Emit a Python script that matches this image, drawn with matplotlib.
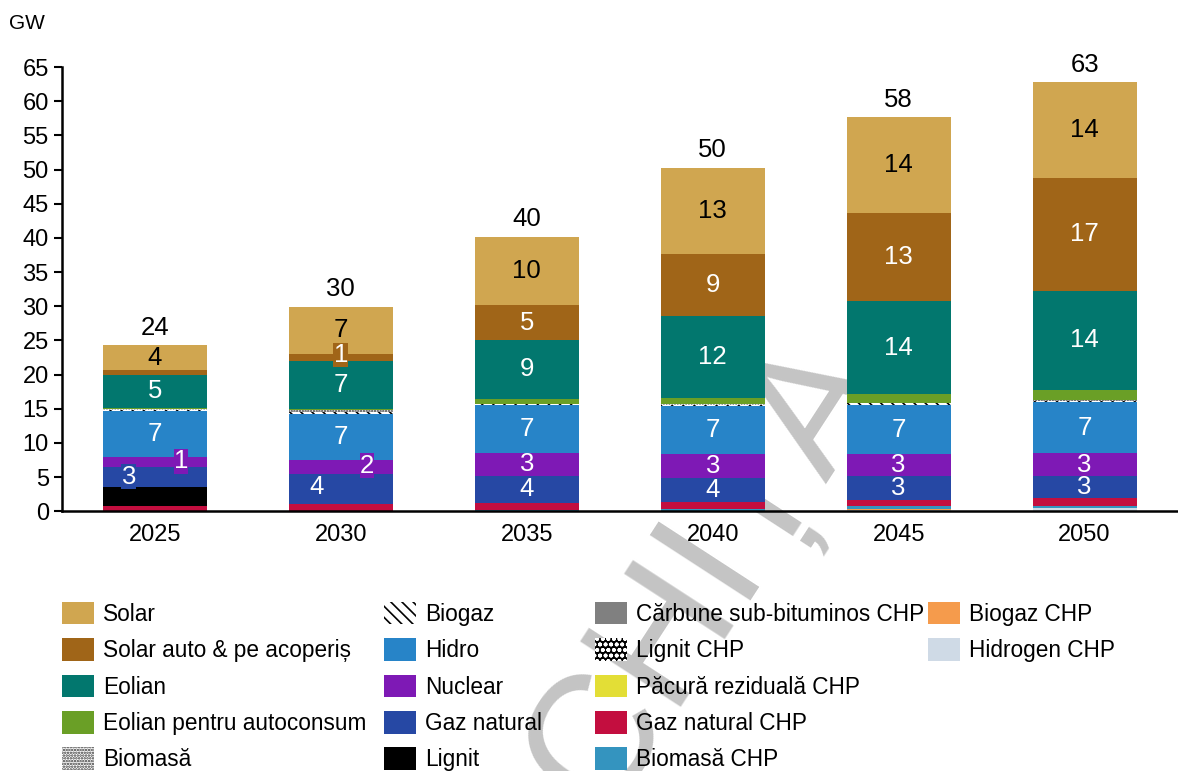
import matplotlib
matplotlib.use("Agg")
import matplotlib.pyplot as plt
import matplotlib.patches as mpatches
import numpy as np

plt.rcParams['font.family'] = ['Liberation Sans', 'DejaVu Sans']
plt.rcParams['hatch.linewidth'] = 1.2

years = ["2025", "2030", "2035", "2040", "2045", "2050"]

# series, bottom -> top of each bar (GW)
hidrogen_chp = [0, 0, 0, 0, 0.15, 0.4]
biogaz_chp = [0, 0, 0, 0, 0.15, 0.1]
biomasa_chp = [0, 0, 0.1, 0.3, 0.4, 0.3]
gaz_chp = [0.7, 1.1, 1.1, 1.0, 1.0, 1.1]
pacura_chp = [0, 0, 0, 0, 0, 0]
lignit_chp = [0, 0, 0, 0, 0, 0]
carbune_chp = [0, 0, 0, 0, 0, 0]
lignit = [2.9, 0, 0, 0, 0, 0]
gaz = [2.9, 4.4, 4.0, 3.6, 3.4, 3.2]
nuclear = [1.4, 1.95, 3.3, 3.4, 3.2, 3.4]
hidro = [6.7, 6.8, 7.0, 7.1, 7.3, 7.45]
biogaz = [0.2, 0.3, 0.2, 0.2, 0.2, 0.2]
biomasa = [0.1, 0.2, 0.05, 0.1, 0.05, 0.05]
eolian_auto = [0.2, 0.2, 0.7, 0.9, 1.3, 1.6]
eolian = [4.9, 7.1, 8.6, 12.0, 13.6, 14.4]
solar_auto = [0.6, 1.0, 5.1, 9.1, 12.9, 16.6]
solar = [3.7, 6.9, 10.0, 12.6, 14.0, 14.0]

# (name, values, color, hatch, hatch color, label color or None)
series = [
    ("Hidrogen CHP", hidrogen_chp, "#CFDAE6", None, None, None),
    ("Biogaz CHP", biogaz_chp, "#F59B4C", None, None, None),
    ("Biomasă CHP", biomasa_chp, "#3494BF", None, None, None),
    ("Gaz natural CHP", gaz_chp, "#C30E3F", None, None, None),
    ("Păcură reziduală CHP", pacura_chp, "#E3DE36", None, None, None),
    ("Lignit CHP", lignit_chp, "black", "ooo", "white", None),
    ("Cărbune sub-bituminos CHP", carbune_chp, "#808080", None, None, None),
    ("Lignit", lignit, "black", None, None, None),
    ("Gaz natural", gaz, "#2648A4", None, None, "white"),
    ("Nuclear", nuclear, "#7E19B5", None, None, "white"),
    ("Hidro", hidro, "#2784C8", None, None, "white"),
    ("Biogaz", biogaz, "white", "\\\\\\", "black", None),
    ("Biomasă", biomasa, "white", "......", "#333333", None),
    ("Eolian pentru autoconsum", eolian_auto, "#6A9F26", None, None, None),
    ("Eolian", eolian, "#02776E", None, None, "white"),
    ("Solar auto & pe acoperiș", solar_auto, "#A06518", None, None, "white"),
    ("Solar", solar, "#D0A650", None, None, "black"),
]

# labels moved off-centre (series, year index): (dx, dy, boxed)
label_moves = {
    ("Gaz natural", 0): (-0.14, 0.0, True),
    ("Nuclear", 0): (0.14, 0.1, True),
    ("Gaz natural", 1): (-0.13, 0.2, False),
    ("Nuclear", 1): (0.14, 0.2, True),
    ("Solar auto & pe acoperiș", 1): (0.0, 0.3, True),
}

fs = 17
lab_fs = 18.5

fig = plt.figure(figsize=(11.78, 7.71), dpi=100)
ax = fig.add_axes([0.0526, 0.337, 0.947, 0.576])
ax.patch.set_alpha(0)

x = np.arange(len(years))
w = 0.56
bottom = np.zeros(len(years))
handles = {}
for name, vals, col, hatch, hcol, lcol in series:
    vals = np.array(vals, dtype=float)
    ax.bar(x, vals, w, bottom=bottom, color=col, linewidth=0,
           hatch=hatch, edgecolor=hcol if hcol else col, zorder=2)
    handles[name] = mpatches.Patch(facecolor=col, hatch=hatch,
                                   edgecolor=hcol if hcol else col, linewidth=0)
    if lcol:
        for i, v in enumerate(vals):
            if v < 0.95:
                continue
            dx, dy, boxed = label_moves.get((name, i), (0, 0, False))
            bbox = dict(facecolor=col, edgecolor="none", pad=0.2) if boxed else None
            ax.text(x[i] + dx, bottom[i] + v / 2 + dy, f"{v:.0f}", ha="center",
                    va="center", color=lcol, fontsize=lab_fs, bbox=bbox, zorder=4)
    bottom += vals

for i, t in enumerate(bottom):
    ax.text(x[i], t + 0.8, f"{t:.0f}", ha="center", va="bottom", fontsize=lab_fs, zorder=4)

ax.set_xlim(-0.5, 5.5)
ax.set_ylim(0, 65)
ax.set_yticks(range(0, 66, 5))
ax.set_xticks(x)
ax.set_xticklabels(years)
ax.tick_params(axis="y", labelsize=fs, length=6, width=1.5, direction="out")
ax.tick_params(axis="x", labelsize=fs, length=0, pad=9)
for s in ["top", "right"]:
    ax.spines[s].set_visible(False)
for s in ["left", "bottom"]:
    ax.spines[s].set_linewidth(1.8)
    ax.spines[s].set_zorder(5)

fig.text(0.008, 0.97, "GW", fontsize=15, va="center")

# watermark behind the chart
fig.text(0.565, 0.2, "SCHIȚĂ", fontsize=125, rotation=57, color="#c4c4c4",
         ha="center", va="center", zorder=-1)

# legend: four columns placed by hand
legend_cols = [
    ["Solar", "Solar auto & pe acoperiș", "Eolian", "Eolian pentru autoconsum", "Biomasă"],
    ["Biogaz", "Hidro", "Nuclear", "Gaz natural", "Lignit"],
    ["Cărbune sub-bituminos CHP", "Lignit CHP", "Păcură reziduală CHP", "Gaz natural CHP", "Biomasă CHP"],
    ["Biogaz CHP", "Hidrogen CHP"],
]
col_x = [62, 384, 595, 928]
for names, cx in zip(legend_cols, col_x):
    fig.legend([handles[n] for n in names], names, loc="upper left",
               bbox_to_anchor=(cx / 1178, 1 - 602 / 771), frameon=False,
               fontsize=16.3, handlelength=1.42, handleheight=1.15,
               handletextpad=0.4, labelspacing=0.55, borderpad=0, borderaxespad=0)

fig.savefig("out.png", dpi=100)
